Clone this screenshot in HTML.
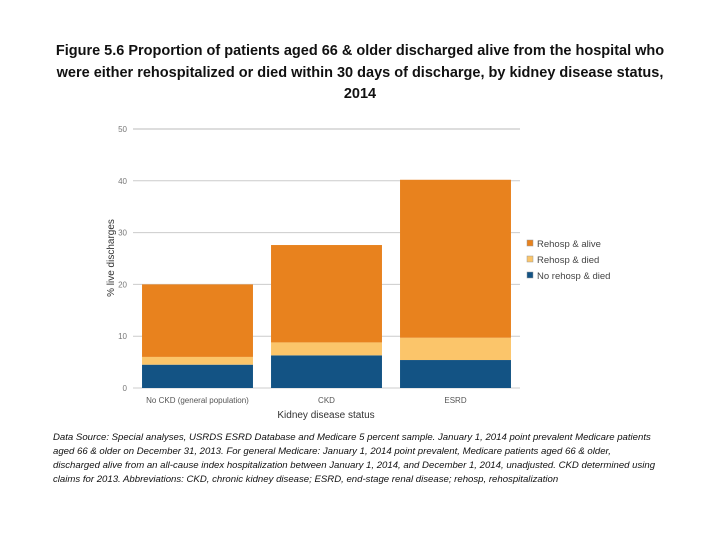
<!DOCTYPE html>
<html><head><meta charset="utf-8"><style>
body{margin:0;width:720px;height:540px;background:#fff;font-family:"Liberation Sans",sans-serif;position:relative;overflow:hidden}
#title{position:absolute;left:0;top:41px;width:720px;text-align:center;font-weight:bold;font-size:14.5px;line-height:21.5px;color:#111}
#note{position:absolute;left:53px;top:431px;width:660px;font-style:italic;font-size:9.6px;line-height:14px;color:#111;white-space:nowrap}
svg{position:absolute;left:0;top:0}
</style></head><body>
<div id="title">Figure 5.6 Proportion of patients aged 66 &amp; older discharged alive from the hospital who<br>were either rehospitalized or died within 30 days of discharge, by kidney disease status,<br>2014</div>
<svg id="c" width="720" height="540"></svg>
<div id="note">Data Source: Special analyses, USRDS ESRD Database and Medicare 5 percent sample. January 1, 2014 point prevalent Medicare patients<br>aged 66 &amp; older on December 31, 2013. For general Medicare: January 1, 2014 point prevalent, Medicare patients aged 66 &amp; older,<br>discharged alive from an all-cause index hospitalization between January 1, 2014, and December 1, 2014, unadjusted. CKD determined using<br>claims for 2013. Abbreviations: CKD, chronic kidney disease; ESRD, end-stage renal disease; rehosp, rehospitalization</div>
<script>
const categories=["No CKD (general population)","CKD","ESRD"];
const noRehospDied=[4.5,6.3,5.4];
const rehospDied=[1.5,2.5,4.3];
const rehospAlive=[14.0,18.8,30.5];
const yTicks=[0,10,20,30,40,50];
const seriesNames=["Rehosp & alive","Rehosp & died","No rehosp & died"];
const NS="http://www.w3.org/2000/svg",svg=document.getElementById('c');
function mk(t,a,p){const e=document.createElementNS(NS,t);for(const k in a)e.setAttribute(k,a[k]);(p||svg).appendChild(e);return e;}
const y0=388,y1=129,xL=133,xR=520;
const y=v=>y0-(v/50)*(y0-y1);
const band=(xR-xL)/categories.length;
const x=i=>xL+band*i+band*0.07;
const bw=band*0.86;
yTicks.forEach(t=>{
 const l=mk('line',{x1:xL,x2:xR,y1:y(t),y2:y(t),stroke:t==50?'#ddd':'#ccc','stroke-width':t==50?2:1});
 
 
 const tx=mk('text',{x:127,y:y(t)+3,'text-anchor':'end','font-size':8,fill:'#777'});tx.textContent=t;
 
 
});
const colors=["#e8821e","#fbc56a","#135384"];
categories.forEach((c,i)=>{
 const segs=[noRehospDied[i],rehospDied[i],rehospAlive[i]];
 const cols=[colors[2],colors[1],colors[0]];
 const names=['no-rehosp-died','rehosp-died','rehosp-alive'];
 let base=0;
 segs.forEach((v,j)=>{
  const r=mk('rect',{x:x(i),y:y(base+v),width:bw,height:y(base)-y(base+v),fill:cols[j]});
  
  
  base+=v;
 });
 const t=mk('text',{x:x(i)+bw/2,y:403,'text-anchor':'middle','font-size':8,fill:'#555'});t.textContent=c;
 
 
});
const xt=mk('text',{x:326,y:418,'text-anchor':'middle','font-size':10,fill:'#333'});xt.textContent='Kidney disease status';


const yt=mk('text',{x:0,y:0,'text-anchor':'middle','font-size':10,fill:'#333',transform:'translate(114,258) rotate(-90)'});yt.textContent='% live discharges';


seriesNames.forEach((n,j)=>{
 const g=mk('g',{});
 
 
 mk('rect',{x:527,y:240+j*16,width:6,height:6,fill:colors[j],stroke:'#999','stroke-width':0.5},g);
 const t=mk('text',{x:537,y:247+j*16,'font-size':9.5,fill:'#444'},g);t.textContent=n;
});
</script>
</body></html>
